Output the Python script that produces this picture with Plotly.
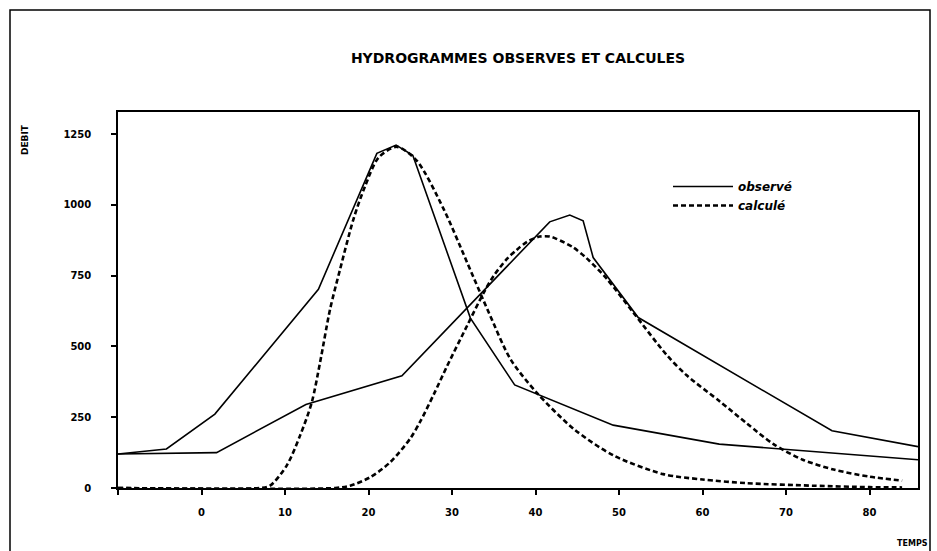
import plotly.graph_objects as go

# ---- data ----
obs1_t = [-10, -4.2, 1.6, 14.0, 21.0, 23.3, 25.3, 32.2, 37.5, 49.3, 62.0, 85.8]
obs1_q = [120, 138, 261, 702, 1182, 1211, 1175, 600, 364, 222, 155, 100]

obs2_t = [-10, 1.8, 12.5, 24.0, 41.7, 44.1, 45.7, 46.9, 52.3, 75.5, 85.8]
obs2_q = [120, 125, 295, 396, 940, 964, 944, 814, 602, 202, 146]

calc1_t = [-10, 7.0, 8.2, 10.2, 11.8, 13.2, 14.2, 15.4, 16.6, 18.2, 19.6, 21.2, 23.4, 25.8,
           29.0, 31.8, 34.4, 37.0, 40.1, 44.6, 49.4, 55.3, 60.0, 65.3, 73.3, 80.0, 83.9]
calc1_q = [0, 0, 8, 79, 185, 302, 444, 632, 773, 950, 1067, 1167, 1205, 1155,
           985, 797, 620, 455, 338, 208, 114, 49, 30, 17, 8, 3, 2]

calc2_t = [-10, 16.0, 17.8, 20.2, 22.6, 25.0, 26.2, 27.8, 29.4, 31.8, 33.8, 35.0, 36.6, 37.7,
           39.0, 40.5, 41.7, 42.5, 44.5, 46.1, 48.5, 51.7, 55.7, 58.1, 62.1, 65.3, 68.5, 72.0,
           75.7, 80.0, 83.9]
calc2_q = [0, 0, 8, 38, 91, 175, 235, 330, 430, 573, 690, 750, 810, 840,
           870, 888, 888, 880, 850, 812, 740, 620, 470, 398, 305, 228, 155, 100,
           65, 40, 26]

x_ticks = [-10, 0, 10, 20, 30, 40, 50, 60, 70, 80]
x_ticktext = ["", "0", "10", "20", "30", "40", "50", "60", "70", "80"]
y_ticks = [0, 250, 500, 750, 1000, 1250]

FONT = "DejaVu Sans"
solid = dict(color="black", width=1.6)
dashed = dict(color="black", width=2.6, dash="5px,3px", shape="spline", smoothing=0.8)

fig = go.Figure()
fig.add_trace(go.Scatter(x=obs1_t, y=obs1_q, mode="lines", line=solid,
                         name="observé", legendgroup="obs", showlegend=True))
fig.add_trace(go.Scatter(x=obs2_t, y=obs2_q, mode="lines", line=solid,
                         name="observé", legendgroup="obs", showlegend=False))
fig.add_trace(go.Scatter(x=calc1_t, y=calc1_q, mode="lines", line=dashed,
                         name="calculé", legendgroup="calc", showlegend=True))
fig.add_trace(go.Scatter(x=calc2_t, y=calc2_q, mode="lines", line=dashed,
                         name="calculé", legendgroup="calc", showlegend=False))

W, H = 937, 551
L, R, T, B = 118, 19, 112, 63
pw, ph = W - L - R, H - T - B

def px(xp):
    return (xp - L) / pw

def py(yp):
    return (H - B - yp) / ph

fig.update_layout(
    width=W, height=H,
    margin=dict(l=L, r=R, t=T, b=B),
    paper_bgcolor="white", plot_bgcolor="white",
    font=dict(family=FONT, color="black", size=10),
    title=dict(text="HYDROGRAMMES OBSERVES ET CALCULES",
               x=0.5, xref="paper", xanchor="center",
               y=1 - 58 / H, yref="container", yanchor="middle",
               font=dict(family=FONT, size=14, weight="bold", color="black")),
    showlegend=True,
    legend=dict(x=px(668), y=py(172), xanchor="left", yanchor="top",
                bgcolor="rgba(0,0,0,0)", borderwidth=0,
                font=dict(family=FONT, size=12, style="italic", weight="bold"),
                tracegroupgap=0, itemwidth=60),
    xaxis=dict(range=[-10, 85.8], tickvals=x_ticks, ticktext=x_ticktext,
               showgrid=False, zeroline=False, showline=True, linecolor="black",
               linewidth=1.5, mirror=True, ticks="outside", ticklen=5,
               tickwidth=1.5, tickcolor="black", ticklabelstandoff=9,
               tickfont=dict(family=FONT, size=10, weight="bold")),
    yaxis=dict(range=[0, 1328], tickvals=y_ticks,
               showgrid=False, zeroline=False, showline=True, linecolor="black",
               linewidth=1.5, mirror=True, ticks="outside", ticklen=5,
               tickwidth=1.5, tickcolor="black", ticklabelstandoff=18,
               tickfont=dict(family=FONT, size=10, weight="bold")),
    annotations=[
        dict(text="DEBIT", xref="paper", yref="paper", x=px(25), y=py(140),
             textangle=-90, showarrow=False, xanchor="center", yanchor="middle",
             font=dict(family=FONT, size=9, weight="bold")),
        dict(text="TEMPS", xref="paper", yref="paper", x=px(912), y=py(543),
             showarrow=False, xanchor="center", yanchor="middle",
             font=dict(family=FONT, size=8, weight="bold")),
    ],
    shapes=[
        dict(type="path", xref="paper", yref="paper",
             path=f"M {px(10)},{py(551)} L {px(10)},{py(10)} L {px(930)},{py(10)} L {px(930)},{py(551)}",
             line=dict(color="black", width=1.5)),
    ],
)

fig.write_html("out.html", config={"displayModeBar": False},
               post_script="document.body.style.margin='0';document.body.style.padding='0';")
